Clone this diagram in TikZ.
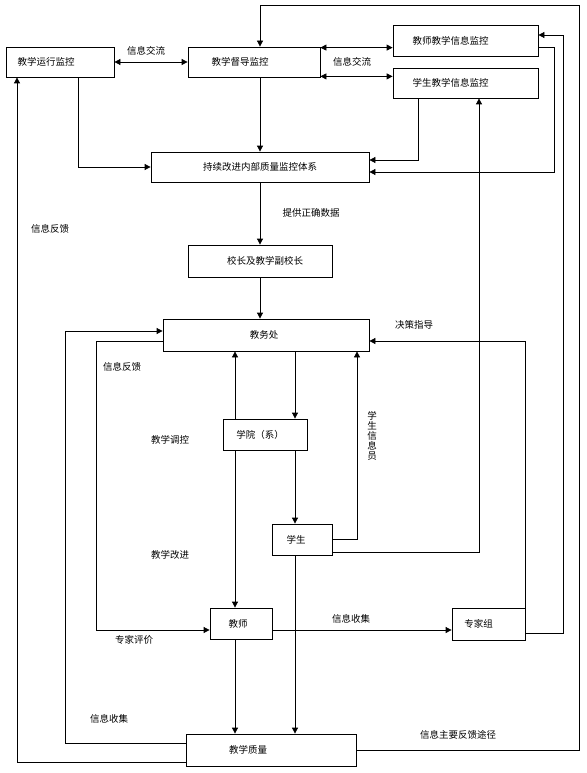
\documentclass[tikz,border=0pt]{standalone}
\usepackage{fontspec}
\newfontfamily\cjk{Noto Sans CJK SC}
\usetikzlibrary{arrows.meta,backgrounds}
\tikzset{
  box/.style={draw, line width=0.8pt, fill=white, inner sep=0pt, font=\cjk\fontsize{9.5}{11}\selectfont},
  lbl/.style={inner sep=0pt, font=\cjk\fontsize{9.5}{11}\selectfont},
  conn/.style={line width=0.8pt, -{Triangle[length=6pt,width=6pt]}},
  dconn/.style={line width=0.8pt, {Triangle[length=6pt,width=6pt]}-{Triangle[length=6pt,width=6pt]}},
  plain/.style={line width=0.8pt}
}
\newcommand{\shtext}[2]{\hspace*{#1}#2}
\begin{document}
\begin{tikzpicture}[x=1pt,y=-1pt]
\useasboundingbox (0,0) rectangle (586,773);
% boxes
\node[box, minimum width=108pt, minimum height=30pt] (yx) at (60,62) {\shtext{-28pt}{教学运行监控}};
\node[box, minimum width=132pt, minimum height=30pt] (dd) at (254,62) {\shtext{-28pt}{教学督导监控}};
\node[box, minimum width=145pt, minimum height=31pt] (js) at (465.5,40.5) {\shtext{-30pt}{教师教学信息监控}};
\node[box, minimum width=145pt, minimum height=30pt] (xs) at (465.5,83) {\shtext{-30pt}{学生教学信息监控}};
\node[box, minimum width=218pt, minimum height=30pt] (cx) at (260,167) {持续改进内部质量监控体系};
\node[box, minimum width=144pt, minimum height=32pt] (xz) at (260,261) {\shtext{10pt}{校长及教学副校长}};
\node[box, minimum width=206pt, minimum height=32pt] (jw) at (266,335) {\shtext{-4pt}{教务处}};
\node[box, minimum width=84pt, minimum height=31pt] (xy) at (265,434.5) {\shtext{-10pt}{学院（系）}};
\node[box, minimum width=60pt, minimum height=31pt] (st) at (302,539.5) {\shtext{-12pt}{学生}};
\node[box, minimum width=62pt, minimum height=31pt] (th) at (241,623.5) {\shtext{-6pt}{教师}};
\node[box, minimum width=73pt, minimum height=32pt] (zj) at (488.5,624) {\shtext{-20pt}{专家组}};
\node[box, minimum width=170pt, minimum height=32pt] (zl) at (271,750) {\shtext{-46pt}{教学质量}};

% connectors
\draw[dconn] (yx.east) -- (dd.west);
\draw[dconn] ([yshift=-1pt]dd.north east) -- ([yshift=-1pt]dd.north east -| js.west);
\draw[dconn] ([yshift=1pt]dd.south east) -- ([yshift=1pt]dd.south east -| xs.west);
\draw[conn] ([xshift=18pt]yx.south) |- (cx.west);
\draw[conn] (dd.south -| cx.north) -- (cx.north);
\draw[conn] ([xshift=-47.5pt]xs.south) |- ([yshift=7pt]cx.east);
\draw[conn] ([yshift=-6.5pt]js.east) -- ++(16pt,0) |- ([yshift=-5pt]cx.east);
\draw[conn] ([yshift=-9pt]zj.east) -- ++(38pt,0) |- ([yshift=5.5pt]js.east);
\draw[conn] (zl.east) -- ++(223pt,0) |- ([xshift=6pt]dd.north |- 0,5) -- ([xshift=6pt]dd.north);
\draw[conn] ([yshift=-12pt]zl.west) -| ([xshift=-43pt]yx.south);
\draw[conn] (cx.south) -- (xz.north);
\draw[conn] (xz.south) -- (xz.south |- jw.north);
\draw[conn] ([yshift=7pt]zl.west) -- ++(-120pt,0) |- ([yshift=4pt]jw.west);
\draw[conn] ([yshift=-6pt]jw.west) -- ++(-66pt,0) |- ([yshift=-6.5pt]th.west);
\begin{scope}[on background layer]
\draw[dconn] ([xshift=-6pt]th.north) -- ([xshift=-6pt]th.north |- jw.south);
\end{scope}
\draw[conn] ([xshift=29pt]jw.south) -- ([xshift=29pt]jw.south |- xy.north);
\draw[conn] ([xshift=30pt]xy.south) -- ([xshift=30pt]xy.south |- st.north);
\draw[conn] ([xshift=-7pt]st.south) -- ([xshift=-7pt]st.south |- zl.north);
\draw[conn] (st.east) -| ([xshift=91pt]jw.south);
\draw[conn] ([yshift=-12.5pt]st.east) -| ([xshift=13.5pt]xs.south);
\draw[conn] ([xshift=-6pt]th.south) -- ([xshift=-6pt]th.south |- zl.north);
\draw[conn] ([yshift=-6.5pt]th.east) -- ([yshift=-6.5pt]th.east -| zj.west);
\draw[conn] (zj.north east) |- ([yshift=-6pt]jw.east);

% labels
\node[lbl] (l1) at (146,51) {信息交流};
\node[lbl] (l2) at (352,62) {信息交流};
\node[lbl] (l3) at (50,229) {信息反馈};
\node[lbl] (l4) at (311,213) {提供正确数据};
\node[lbl] (l5) at (414,325) {决策指导};
\node[lbl] (l6) at (122,367) {信息反馈};
\node[lbl] (l7) at (170,440) {教学调控};
\node[lbl] (l8) at (170,555) {教学改进};
\node[lbl, align=center, font=\cjk\fontsize{9.5}{10}\selectfont] (l9) at (372,436) {学\\生\\信\\息\\员};
\node[lbl] (l10) at (351,619) {信息收集};
\node[lbl] (l11) at (134,640) {专家评价};
\node[lbl] (l12) at (109,719) {信息收集};
\node[lbl] (l13) at (458,735) {信息主要反馈途径};
\end{tikzpicture}
\end{document}
